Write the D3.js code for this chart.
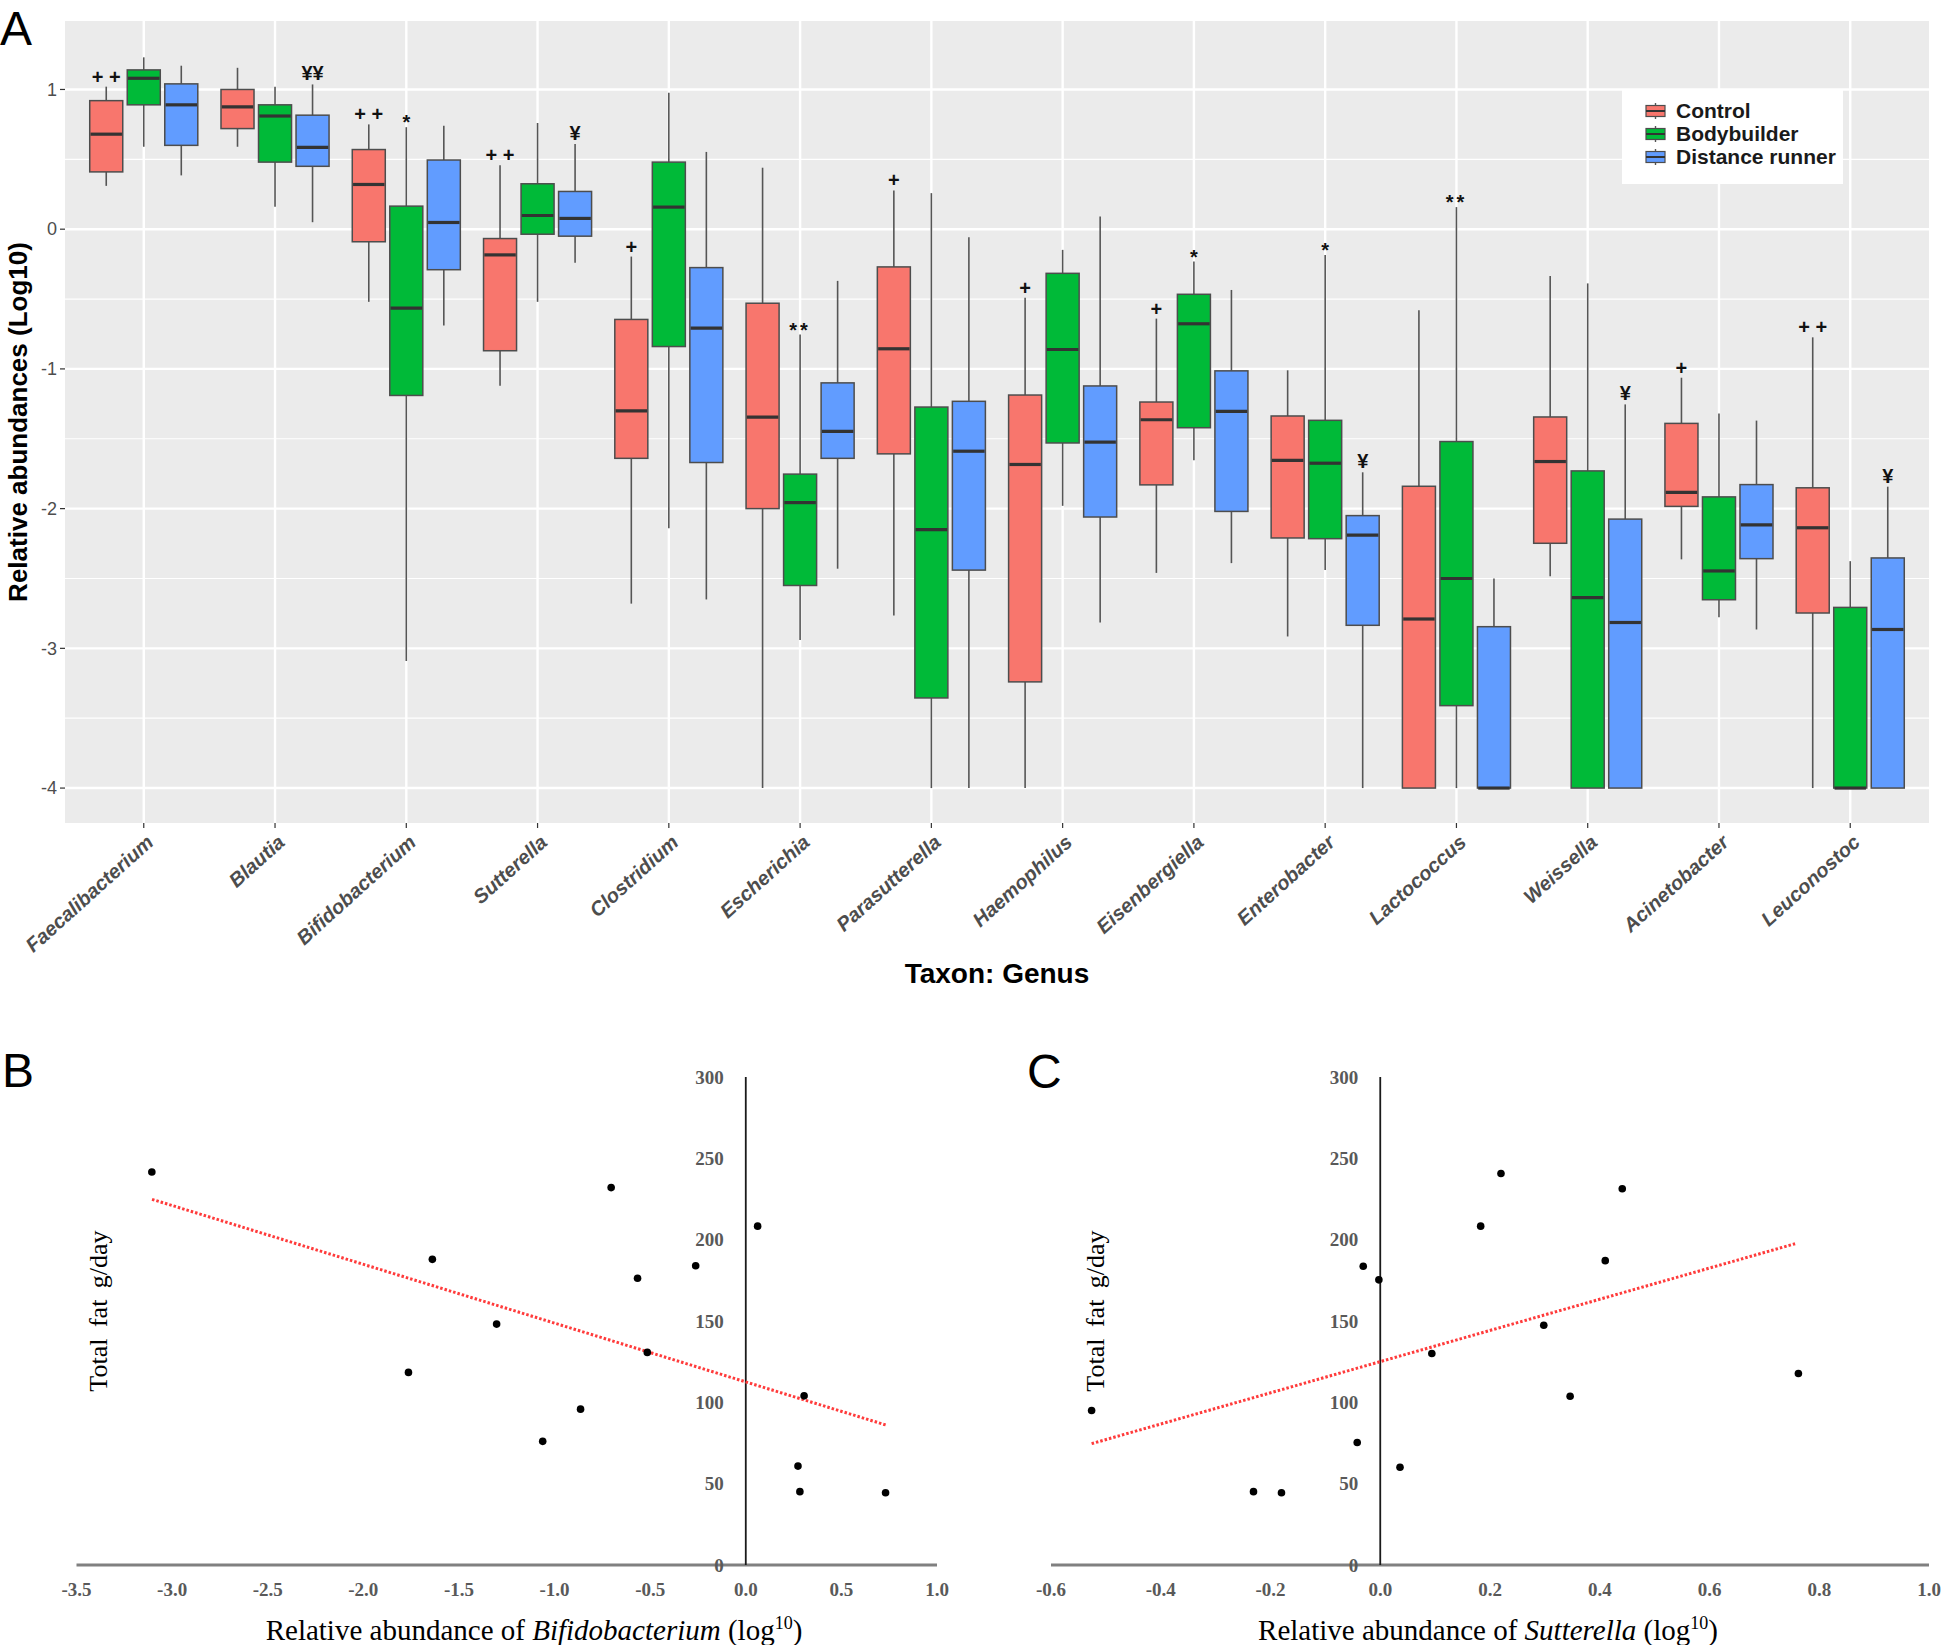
<!DOCTYPE html>
<html><head><meta charset="utf-8">
<script src="https://cdn.jsdelivr.net/npm/d3@7"></script>
<style>body{margin:0;background:#fff} svg{display:block}</style>
</head><body>
<svg id="c" width="1946" height="1645"></svg>
<script>
// ---------- Panel A data ----------
const taxa = ["Faecalibacterium","Blautia","Bifidobacterium","Sutterella","Clostridium","Escherichia","Parasutterella","Haemophilus","Eisenbergiella","Enterobacter","Lactococcus","Weissella","Acinetobacter","Leuconostoc"];
const groups = ["Control","Bodybuilder","Distance runner"];
const groupColors = ["#F8766D","#00BA38","#619CFF"];
// [lower whisker, Q1, median, Q3, upper whisker]
const controlBoxes = [
  [0.31,0.41,0.68,0.92,1.02],
  [0.59,0.72,0.875,1.0,1.155],
  [-0.52,-0.09,0.32,0.57,0.75],
  [-1.12,-0.87,-0.184,-0.067,0.457],
  [-2.68,-1.64,-1.30,-0.646,-0.196],
  [-4.0,-2.0,-1.345,-0.53,0.44],
  [-2.765,-1.608,-0.856,-0.27,0.277],
  [-4.0,-3.24,-1.684,-1.187,-0.49],
  [-2.46,-1.83,-1.364,-1.237,-0.64],
  [-2.915,-2.21,-1.655,-1.337,-1.01],
  [-4.0,-4.0,-2.79,-1.84,-0.58],
  [-2.484,-2.248,-1.663,-1.344,-0.335],
  [-2.363,-1.984,-1.884,-1.39,-1.063],
  [-4.0,-2.747,-2.137,-1.851,-0.774]
];
const bodybuilderBoxes = [
  [0.59,0.89,1.08,1.14,1.23],
  [0.16,0.48,0.81,0.89,1.02],
  [-3.09,-1.19,-0.565,0.165,0.73],
  [-0.52,-0.036,0.098,0.325,0.76],
  [-2.14,-0.84,0.158,0.48,0.976],
  [-2.94,-2.55,-1.957,-1.753,-0.754],
  [-4.0,-3.355,-2.15,-1.273,0.258],
  [-1.98,-1.53,-0.861,-0.316,-0.148],
  [-1.653,-1.421,-0.677,-0.466,-0.232],
  [-2.44,-2.215,-1.675,-1.368,-0.184],
  [-4.0,-3.41,-2.50,-1.52,0.158],
  [-4.0,-4.0,-2.637,-1.73,-0.388],
  [-2.778,-2.652,-2.446,-1.916,-1.32],
  [-4.0,-4.0,-4.0,-2.707,-2.376]
];
const runnerBoxes = [
  [0.385,0.60,0.89,1.04,1.17],
  [0.05,0.45,0.586,0.816,1.036],
  [-0.69,-0.29,0.048,0.495,0.74],
  [-0.24,-0.05,0.077,0.27,0.61],
  [-2.65,-1.67,-0.708,-0.275,0.553],
  [-2.43,-1.64,-1.447,-1.10,-0.37],
  [-4.0,-2.44,-1.589,-1.232,-0.057],
  [-2.815,-2.06,-1.524,-1.122,0.09],
  [-2.39,-2.02,-1.304,-1.014,-0.435],
  [-4.0,-2.835,-2.19,-2.05,-1.74],
  [-4.0,-4.0,-4.0,-2.845,-2.50],
  [-4.0,-4.0,-2.815,-2.075,-1.254],
  [-2.865,-2.358,-2.117,-1.828,-1.37],
  [-4.0,-4.0,-2.865,-2.353,-1.843]
];
const yTicksA = [-4,-3,-2,-1,0,1];
const yMinorA = [-3.5,-2.5,-1.5,-0.5,0.5];
const annotations = [
  ["Faecalibacterium","Control","+ +"],
  ["Blautia","Distance runner","¥¥"],
  ["Bifidobacterium","Control","+ +"],
  ["Bifidobacterium","Bodybuilder","*"],
  ["Sutterella","Control","+ +"],
  ["Sutterella","Distance runner","¥"],
  ["Clostridium","Control","+"],
  ["Escherichia","Bodybuilder","**"],
  ["Parasutterella","Control","+"],
  ["Haemophilus","Control","+"],
  ["Eisenbergiella","Control","+"],
  ["Eisenbergiella","Bodybuilder","*"],
  ["Enterobacter","Bodybuilder","*"],
  ["Enterobacter","Distance runner","¥"],
  ["Lactococcus","Bodybuilder","**"],
  ["Weissella","Distance runner","¥"],
  ["Acinetobacter","Control","+"],
  ["Leuconostoc","Control","+ +"],
  ["Leuconostoc","Distance runner","¥"]
];

// ---------- Panel B / C data ----------
const bifidoAbundance = [-3.106,-0.704,-1.639,0.062,-0.566,-0.262,-1.303,-0.515,-1.764,0.305,-0.864,-1.062,0.273,0.283,0.731];
const bifidoFat       = [241.6,232.0,187.9,208.3,176.3,184.0,148.1,130.7,118.4,104.0,95.8,76.0,60.8,45.1,44.4];
const bifidoTrendX = [-3.105,0.737];
const bifidoTrendY = [224.8,85.9];
const sutterAbundance = [-0.526,-0.231,-0.180,-0.042,0.036,-0.031,-0.0025,0.094,0.183,0.220,0.298,0.346,0.410,0.441,0.762];
const sutterFat       = [95.0,45.1,44.4,75.3,60.1,183.7,175.3,130.0,208.3,240.7,147.4,103.7,187.1,231.3,117.7];
const sutterTrendX = [-0.526,0.756];
const sutterTrendY = [74.6,197.5];
const xTicksB = [-3.5,-3.0,-2.5,-2.0,-1.5,-1.0,-0.5,0.0,0.5,1.0];
const xTickLabelsB = ["-3.5","-3.0","-2.5","-2.0","-1.5","-1.0","-0.5","0.0","0.5","1.0"];
const xTicksC = [-0.6,-0.4,-0.2,0.0,0.2,0.4,0.6,0.8,1.0];
const xTickLabelsC = ["-0.6","-0.4","-0.2","0.0","0.2","0.4","0.6","0.8","1.0"];
const yTicksBC = [0,50,100,150,200,250,300];

// ---------- Drawing ----------
const svg = d3.select("#c");
const SANS = "'Liberation Sans', Arial, sans-serif";
const SERIF = "'Liberation Serif', 'Times New Roman', serif";

// Panel A
const A = {left:65, right:1929, top:21, bottom:823};
const x = d3.scalePoint().domain(taxa).range([A.left, A.right]).padding(0.6);
const y = d3.scaleLinear().domain([-4.25, 1.49]).range([A.bottom, A.top]);
const half = 0.4116 * x.step();
const sub = d3.scaleBand().domain(groups).range([-half, half]).paddingInner(0.12);
const color = d3.scaleOrdinal().domain(groups).range(groupColors);

const gA = svg.append("g");
gA.append("rect").attr("x",A.left).attr("y",A.top).attr("width",A.right-A.left).attr("height",A.bottom-A.top).attr("fill","#EBEBEB");
gA.selectAll("line.minor").data(yMinorA).join("line")
  .attr("x1",A.left).attr("x2",A.right).attr("y1",d=>y(d)).attr("y2",d=>y(d))
  .attr("stroke","#fff").attr("stroke-width",1.2);
gA.selectAll("line.major").data(yTicksA).join("line")
  .attr("x1",A.left).attr("x2",A.right).attr("y1",d=>y(d)).attr("y2",d=>y(d))
  .attr("stroke","#fff").attr("stroke-width",2.4);
gA.selectAll("line.vgrid").data(taxa).join("line")
  .attr("x1",d=>x(d)).attr("x2",d=>x(d)).attr("y1",A.top).attr("y2",A.bottom)
  .attr("stroke","#fff").attr("stroke-width",2.4);

// axis ticks & labels
gA.selectAll("line.yt").data(yTicksA).join("line")
  .attr("x1",A.left-5).attr("x2",A.left).attr("y1",d=>y(d)).attr("y2",d=>y(d))
  .attr("stroke","#333").attr("stroke-width",1.2);
gA.selectAll("text.yl").data(yTicksA).join("text")
  .attr("x",A.left-8).attr("y",d=>y(d)).attr("dy","0.35em").attr("text-anchor","end")
  .attr("font-family",SANS).attr("font-size",18).attr("fill","#4d4d4d").text(d=>String(d));
gA.selectAll("line.xt").data(taxa).join("line")
  .attr("x1",d=>x(d)).attr("x2",d=>x(d)).attr("y1",A.bottom).attr("y2",A.bottom+5)
  .attr("stroke","#333").attr("stroke-width",1.2);
gA.selectAll("text.xl").data(taxa).join("text")
  .attr("transform",d=>`translate(${x(d)+11},844) rotate(-42)`)
  .attr("text-anchor","end").attr("font-family",SANS).attr("font-size",20)
  .attr("font-weight","bold").attr("font-style","italic").attr("fill","#4d4d4d").text(d=>d);

// titles
gA.append("text").attr("transform","translate(27,422) rotate(-90)").attr("text-anchor","middle")
  .attr("font-family",SANS).attr("font-size",26).attr("font-weight","bold").attr("fill","#000")
  .text("Relative abundances (Log10)");
gA.append("text").attr("x",997).attr("y",983).attr("text-anchor","middle")
  .attr("font-family",SANS).attr("font-size",28).attr("font-weight","bold").attr("fill","#000")
  .text("Taxon: Genus");

// boxes
const boxSets = [controlBoxes, bodybuilderBoxes, runnerBoxes];
const boxData = [];
groups.forEach((g,gi)=>{
  boxSets[gi].forEach((s,ti)=>{
    boxData.push({taxon:taxa[ti], group:g, lo:s[0], q1:s[1], med:s[2], q3:s[3], hi:s[4]});
  });
});
const bw = sub.bandwidth();
const cxOf = d => x(d.taxon) + sub(d.group) + bw/2;
const gB = gA.append("g");
const bx = gB.selectAll("g.box").data(boxData).join("g");
bx.append("line").attr("x1",cxOf).attr("x2",cxOf).attr("y1",d=>y(d.lo)).attr("y2",d=>y(d.q1))
  .attr("stroke","#555").attr("stroke-width",1.6);
bx.append("line").attr("x1",cxOf).attr("x2",cxOf).attr("y1",d=>y(d.q3)).attr("y2",d=>y(d.hi))
  .attr("stroke","#555").attr("stroke-width",1.6);
bx.append("rect").attr("x",d=>cxOf(d)-bw/2).attr("width",bw)
  .attr("y",d=>y(d.q3)).attr("height",d=>Math.max(0.5,y(d.q1)-y(d.q3)))
  .attr("fill",d=>color(d.group)).attr("stroke","#4d4d4d").attr("stroke-width",1.5);
bx.append("line").attr("x1",d=>cxOf(d)-bw/2+0.8).attr("x2",d=>cxOf(d)+bw/2-0.8)
  .attr("y1",d=>y(d.med)).attr("y2",d=>y(d.med)).attr("stroke","#333").attr("stroke-width",3.2);

// significance annotations
const annOffset = {"+":-3,"+ +":-3,"¥":-4,"¥¥":-4,"*":2,"**":2};
gA.selectAll("text.ann").data(annotations).join("text")
  .attr("x",d=>{const b=boxData.find(e=>e.taxon===d[0]&&e.group===d[1]);return cxOf(b);})
  .attr("y",d=>{const b=boxData.find(e=>e.taxon===d[0]&&e.group===d[1]);return y(b.hi)+annOffset[d[2]];})
  .attr("text-anchor","middle").attr("font-family",SANS).attr("font-size",20).attr("font-weight","bold")
  .attr("letter-spacing",d=>d[2]==="**"?3:0).attr("fill","#111").text(d=>d[2]);

// legend
const lg = gA.append("g");
lg.append("rect").attr("x",1622).attr("y",89).attr("width",221).attr("height",95).attr("fill","#fff");
const rowY = [111,134,157];
groups.forEach((g,i)=>{
  const ry = rowY[i];
  lg.append("line").attr("x1",1655.5).attr("x2",1655.5).attr("y1",ry-8).attr("y2",ry+8).attr("stroke","#555").attr("stroke-width",1.4);
  lg.append("rect").attr("x",1646).attr("y",ry-5.5).attr("width",19).attr("height",11).attr("fill",color(g)).attr("stroke","#4d4d4d").attr("stroke-width",1.2);
  lg.append("line").attr("x1",1646).attr("x2",1665).attr("y1",ry).attr("y2",ry).attr("stroke","#333").attr("stroke-width",2);
  lg.append("text").attr("x",1676).attr("y",ry+7).attr("font-family",SANS).attr("font-size",21)
    .attr("font-weight","bold").attr("fill","#1a1a1a").text(g);
});

// Panel letters
[["A",0,45],["B",2,1087],["C",1027,1088]].forEach(p=>{
  svg.append("text").attr("x",p[1]).attr("y",p[2]).attr("font-family",SANS).attr("font-size",48).attr("fill","#000").text(p[0]);
});

// ---------- Scatter panels ----------
function scatter(cfg){
  const g = svg.append("g");
  const xs = d3.scaleLinear().domain(cfg.xDomain).range(cfg.xRange);
  const ys = d3.scaleLinear().domain([0,300]).range([1565,1077]);
  // horizontal axis
  g.append("line").attr("x1",xs(cfg.xDomain[0])).attr("x2",xs(cfg.xDomain[1])).attr("y1",ys(0)).attr("y2",ys(0))
    .attr("stroke","#808080").attr("stroke-width",3);
  // vertical axis at x=0
  g.append("line").attr("x1",xs(0)).attr("x2",xs(0)).attr("y1",ys(0)).attr("y2",ys(300))
    .attr("stroke","#1a1a1a").attr("stroke-width",1.8);
  g.selectAll("text.yl").data(yTicksBC).join("text")
    .attr("x",xs(0)-22).attr("y",d=>ys(d)).attr("dy","0.35em").attr("text-anchor","end")
    .attr("font-family",SERIF).attr("font-size",19).attr("font-weight","bold").attr("fill","#595959").text(d=>d);
  g.selectAll("text.xl").data(cfg.xTicks).join("text")
    .attr("x",d=>xs(d)).attr("y",1596).attr("text-anchor","middle")
    .attr("font-family",SERIF).attr("font-size",19).attr("font-weight","bold").attr("fill","#595959")
    .text((d,i)=>cfg.xLabels[i]);
  // trend line
  const tl = cfg.trendX.map((v,i)=>[v,cfg.trendY[i]]);
  g.append("path").attr("d",d3.line().x(d=>xs(d[0])).y(d=>ys(d[1]))(tl))
    .attr("stroke","#FF3B3B").attr("stroke-width",3).attr("stroke-dasharray","2.5,2").attr("fill","none");
  // points
  const pts = cfg.xs.map((v,i)=>[v,cfg.ys[i]]);
  g.selectAll("circle").data(pts).join("circle").attr("cx",d=>xs(d[0])).attr("cy",d=>ys(d[1])).attr("r",3.8).attr("fill","#000");
  // y title
  g.append("text").attr("transform",`translate(${cfg.yTitleX},1311) rotate(-90)`).attr("text-anchor","middle")
    .attr("font-family",SERIF).attr("font-size",26).attr("word-spacing",5).attr("fill","#000").text("Total fat g/day");
  // x title
  const t = g.append("text").attr("x",cfg.xTitleX).attr("y",1640).attr("text-anchor","middle")
    .attr("font-family",SERIF).attr("font-size",29).attr("fill","#000");
  t.append("tspan").text("Relative abundance of ");
  t.append("tspan").attr("font-style","italic").text(cfg.genus);
  t.append("tspan").text(" (log");
  t.append("tspan").attr("font-size",18).attr("dy",-11).text("10");
  t.append("tspan").attr("dy",11).text(")");
}
scatter({xDomain:[-3.5,1.0], xRange:[76.5,937], xTicks:xTicksB, xLabels:xTickLabelsB,
  xs:bifidoAbundance, ys:bifidoFat, trendX:bifidoTrendX, trendY:bifidoTrendY,
  yTitleX:107, xTitleX:534, genus:"Bifidobacterium"});
scatter({xDomain:[-0.6,1.0], xRange:[1051,1929], xTicks:xTicksC, xLabels:xTickLabelsC,
  xs:sutterAbundance, ys:sutterFat, trendX:sutterTrendX, trendY:sutterTrendY,
  yTitleX:1104, xTitleX:1488, genus:"Sutterella"});
</script>
</body></html>
